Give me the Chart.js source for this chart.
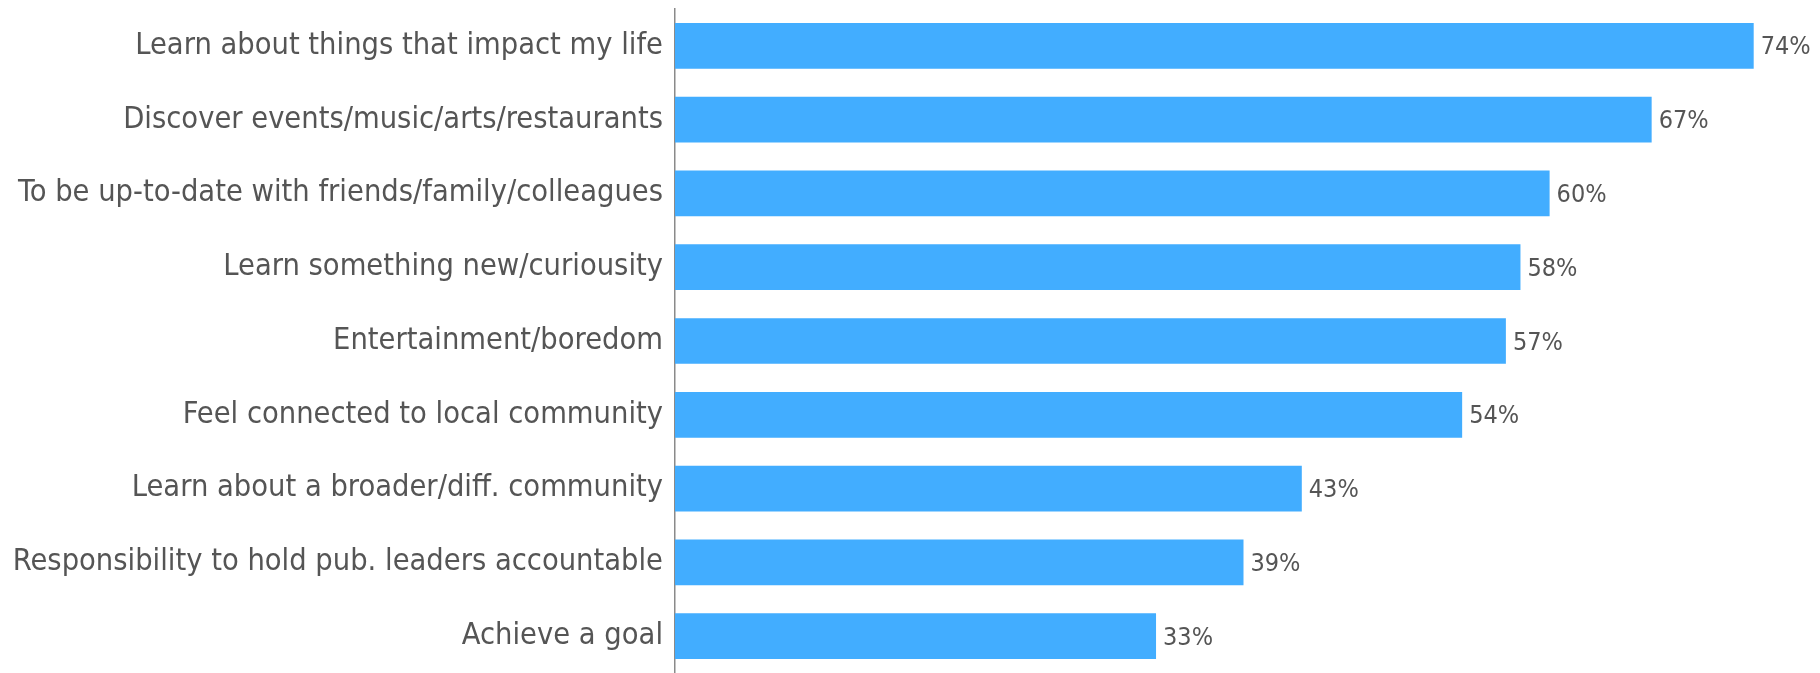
<!DOCTYPE html>
<html lang="en">
<head>
  <meta charset="UTF-8">
  <title>Reasons for reading news</title>
  <script src="https://cdn.jsdelivr.net/npm/chart.js"></script>
  <style>
    html, body {
      margin: 0;
      padding: 0;
      background: #ffffff;
    }
    .chart-box {
      width: 1820px;
      height: 673px;
      position: relative;
    }
  </style>
</head>
<body>

<div class="chart-box">
  <canvas id="reasonsChart"></canvas>
</div>

<script>
  // Data
  const categories = [
    'Learn about things that impact my life',
    'Discover events/music/arts/restaurants',
    'To be up-to-date with friends/family/colleagues',
    'Learn something new/curiousity',
    'Entertainment/boredom',
    'Feel connected to local community',
    'Learn about a broader/diff. community',
    'Responsibility to hold pub. leaders accountable',
    'Achieve a goal'
  ];
  const shares = [74, 67, 60, 58, 57, 54, 43, 39, 33];

  const fontFamily = '"Liberation Sans Narrow", "DejaVu Sans Condensed", "Open Sans", sans-serif';
  const textColor = '#555555';

  // draws the "74%" labels at the end of each bar
  const valueLabels = {
    id: 'valueLabels',
    afterDatasetsDraw(chart) {
      const ctx = chart.ctx;
      const meta = chart.getDatasetMeta(0);
      ctx.save();
      ctx.font = '25px ' + fontFamily;
      ctx.fillStyle = textColor;
      ctx.textAlign = 'left';
      ctx.textBaseline = 'middle';
      meta.data.forEach((bar, i) => {
        ctx.fillText(shares[i] + '%', bar.x + 7, bar.y + 2);
      });
      ctx.restore();
    }
  };

  document.addEventListener('DOMContentLoaded', function() {
    const ctx = document.getElementById('reasonsChart').getContext('2d');
    new Chart(ctx, {
      type: 'bar',
      data: {
        labels: categories,
        datasets: [{
          data: shares,
          backgroundColor: '#42adff',
          borderWidth: 0,
          barPercentage: 0.62,
          categoryPercentage: 1.0
        }]
      },
      options: {
        indexAxis: 'y',
        responsive: true,
        maintainAspectRatio: false,
        animation: false,
        layout: {
          padding: { top: 9, right: 8, bottom: 0, left: 0 }
        },
        plugins: {
          legend: { display: false },
          tooltip: { enabled: false }
        },
        scales: {
          x: {
            display: false,
            min: 0,
            max: 78
          },
          y: {
            grid: { display: false },
            border: { display: true, color: '#8a8a8a', width: 1.5 },
            ticks: {
              color: textColor,
              padding: 4,
              font: { family: fontFamily, size: 30.5 }
            },
            afterFit(scale) {
              // fixed label column, no extra room above/below for tick labels
              scale.width = 675;
              scale.paddingTop = 0;
              scale.paddingBottom = 0;
            }
          }
        }
      },
      plugins: [valueLabels]
    });
  });
</script>

</body>
</html>
